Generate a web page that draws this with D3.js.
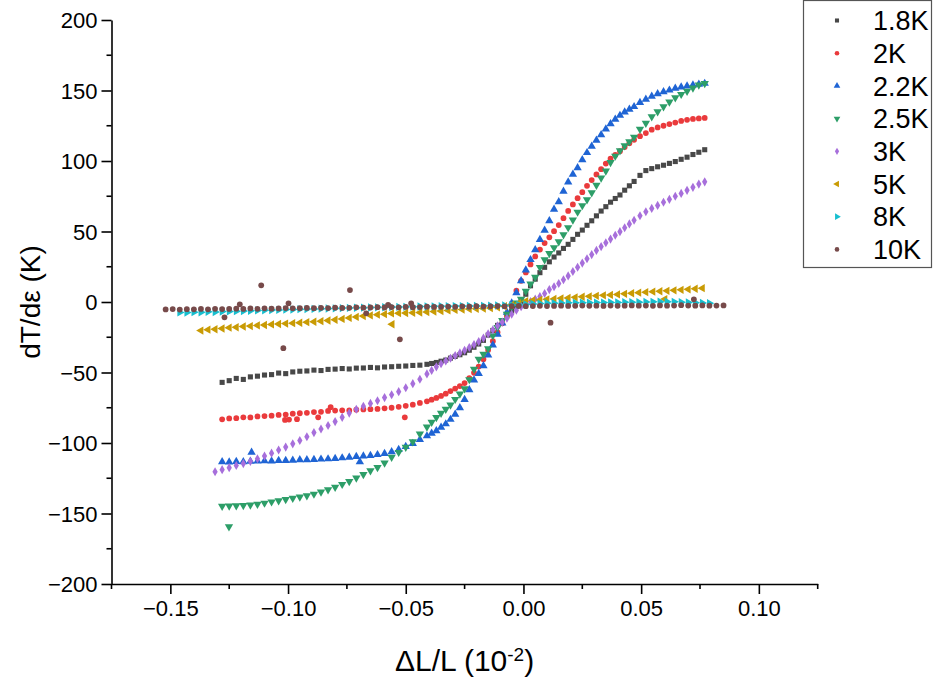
<!DOCTYPE html>
<html>
<head>
<meta charset="utf-8">
<script src="https://cdn.jsdelivr.net/npm/d3@7"></script>
<style>
  body { margin: 0; background: #fff; }
  svg { display: block; }
  text { font-family: Arial, "Liberation Sans", sans-serif; fill: #000; }
</style>
</head>
<body>
<svg id="chart" width="933" height="679"></svg>
<script>
// Strain grid shared by the low-temperature runs (1.8 K – 3 K)
const strainMain = [
  -0.131,-0.128,-0.125,-0.122,-0.119,-0.116,-0.113,-0.110,-0.107,-0.104,
  -0.101,-0.098,-0.095,-0.092,-0.089,-0.086,-0.083,-0.080,-0.077,-0.074,
  -0.071,-0.068,-0.065,-0.062,-0.059,-0.056,-0.053,-0.050,-0.047,-0.044,
  -0.041,-0.039,-0.037,-0.035,-0.033,-0.031,-0.029,-0.027,-0.025,-0.023,
  -0.021,-0.019,-0.017,-0.015,-0.013,-0.011,-0.009,-0.007,-0.005,-0.003,
  -0.001,0.001,0.003,0.005,0.007,0.009,0.011,0.013,0.015,0.017,
  0.019,0.021,0.023,0.025,0.027,0.029,0.031,0.033,0.035,0.037,
  0.039,0.041,0.043,0.045,0.047,0.0495,0.052,0.0545,0.057,0.0595,
  0.062,0.0645,0.067,0.0695,0.072,0.0745,0.077
];

// Strain grid for the higher-temperature runs (5 K – 10 K)
const strainFlat = [
  -0.152,-0.149,-0.146,-0.143,-0.140,-0.137,-0.134,-0.131,-0.128,-0.125,
  -0.122,-0.119,-0.116,-0.113,-0.110,-0.107,-0.104,-0.101,-0.098,-0.095,
  -0.092,-0.089,-0.086,-0.083,-0.080,-0.077,-0.074,-0.071,-0.068,-0.065,
  -0.062,-0.059,-0.056,-0.053,-0.050,-0.047,-0.044,-0.041,-0.038,-0.035,
  -0.032,-0.029,-0.026,-0.023,-0.020,-0.017,-0.014,-0.011,-0.008,-0.005,
  -0.002,0.001,0.004,0.007,0.010,0.013,0.016,0.019,0.022,0.025,
  0.028,0.031,0.034,0.037,0.040,0.043,0.046,0.049,0.052,0.055,
  0.058,0.061,0.064,0.067,0.070,0.073,0.076,0.079,0.082,0.085
];

// dT/dε (K) for each temperature; null where a run has no reading
const dTde_1p8K = [
  null,-57.0,-55.8,-54.2,-54.9,-53.1,-52.6,-51.8,-51.5,-50.4,
  -50.8,-49.6,-49.1,-48.9,-48.3,-48.6,-47.8,-47.6,-47.2,-47.5,
  -46.9,-46.8,-46.4,-46.7,-46.1,-45.9,-45.6,-45.4,-45.0,-44.8,
  -44.2,-43.6,-42.9,-42.0,-41.2,-39.8,-38.6,-37.4,-36.0,-34.2,
  -32.1,-29.8,-27.2,-23.5,-20.2,-16.6,-13.2,-9.8,-6.4,-3.0,
  0.5,5.5,11.5,16.2,20.8,24.6,28.5,31.9,34.8,38.0,
  40.9,44.4,48.0,51.0,54.4,57.6,61.1,64.5,67.6,70.8,
  73.4,75.9,79.3,82.4,85.5,89.8,93.2,94.6,95.9,97.0,
  98.3,99.6,101.2,102.7,104.6,106.2,108.0
];
const dTde_2K = [
  null,-83.2,-82.6,-82.4,-81.8,-81.9,-81.2,-80.9,-80.6,-80.1,
  -79.8,-79.2,-78.9,-78.6,-78.1,-77.9,-77.3,-77.0,-76.8,-76.9,
  -76.4,-76.2,-76.0,-75.8,-75.4,-75.0,-74.3,-73.6,-72.8,-71.6,
  -70.4,-69.3,-68.0,-66.6,-65.0,-63.2,-61.4,-59.6,-57.5,-54.0,
  -50.2,-45.8,-40.6,-34.0,-27.8,-21.5,-15.1,-9.4,-2.2,8.0,
  15.0,21.0,26.6,32.3,37.2,41.8,45.9,50.2,54.6,59.4,
  64.6,69.2,73.6,77.9,82.4,86.5,90.5,94.2,98.2,101.6,
  104.3,107.0,109.9,112.6,115.0,117.6,119.8,122.2,123.8,125.0,
  126.2,127.3,128.4,129.2,129.8,130.2,130.5
];
const dTde_2p2K = [
  null,-113.4,-113.6,-113.2,-113.3,-113.0,-112.9,-112.7,-112.8,-112.5,
  -112.4,-112.3,-112.0,-111.9,-111.8,-111.5,-111.3,-111.0,-110.6,-110.2,
  -109.7,-109.3,-108.9,-108.3,-107.5,-106.3,-104.6,-102.6,-100.4,-97.6,
  -95.0,-93.2,-91.3,-88.9,-86.5,-83.3,-79.6,-75.0,-69.2,-62.3,
  -55.3,-50.8,-45.3,-37.6,-30.6,-23.0,-15.0,-7.3,-0.8,6.5,
  15.0,22.6,30.0,37.0,44.2,50.8,57.5,65.8,71.1,78.5,
  85.0,90.6,95.2,100.8,105.9,110.4,114.6,118.6,122.6,126.3,
  129.5,132.3,134.7,136.6,138.5,141.4,143.8,145.9,147.6,149.0,
  150.2,151.5,152.5,153.2,153.8,154.4,155.0
];
const dTde_2p5K = [
  null,-144.8,-144.6,-144.5,-144.2,-143.9,-143.4,-142.6,-141.7,-140.9,
  -140.0,-139.2,-138.3,-137.3,-136.2,-134.7,-133.1,-131.4,-129.3,-127.2,
  -124.8,-122.3,-119.7,-117.3,-114.2,-110.0,-106.6,-103.0,-99.0,-93.6,
  -88.6,-85.2,-81.8,-78.8,-76.0,-73.0,-69.0,-65.2,-61.5,-55.0,
  -47.6,-40.5,-37.0,-33.0,-23.8,-18.0,-13.0,-8.6,-3.5,-0.6,
  2.0,7.7,12.8,17.6,24.6,30.0,34.4,38.6,42.8,47.7,
  52.8,58.2,63.8,68.4,72.6,77.6,82.8,88.0,93.0,99.0,
  103.5,107.3,110.8,113.7,117.0,122.6,126.8,131.4,135.0,138.6,
  141.9,144.9,147.3,149.5,151.8,154.0,155.0
];
const dTde_3K = [
  -120.4,-118.9,-117.5,-116.0,-114.6,-113.0,-111.2,-109.3,-107.2,-105.0,
  -102.9,-100.6,-98.2,-95.6,-92.6,-90.1,-87.6,-84.8,-81.8,-78.8,
  -76.1,-73.9,-71.9,-70.0,-67.8,-65.8,-63.6,-60.8,-57.9,-54.8,
  -51.0,-48.5,-46.0,-43.8,-41.8,-39.9,-38.0,-36.1,-34.3,-32.3,
  -30.2,-28.1,-25.6,-22.6,-19.8,-16.9,-14.3,-11.5,-8.7,-5.8,
  -3.4,-1.2,0.4,2.0,3.9,6.0,8.8,10.8,13.1,15.8,
  18.5,21.6,24.6,27.6,30.7,33.6,36.6,39.3,42.0,44.6,
  47.3,49.9,52.7,55.4,58.0,61.2,64.0,66.4,68.5,70.7,
  72.8,75.0,77.0,79.2,81.3,83.6,85.2
];
const dTde_5K = [
  null,null,null,null,null,-20.3,-19.6,-19.3,-18.8,-18.2,
  -17.9,-17.4,-17.1,-16.6,-16.3,-15.9,-15.6,-15.3,-15.0,-14.7,
  -14.3,-14.0,-13.6,-13.1,-12.6,-12.0,-11.3,-10.6,-10.0,-9.5,
  -9.0,-8.6,-8.1,-7.9,-7.8,-7.7,-7.5,-7.1,-6.8,-6.4,
  -6.0,-5.6,-5.3,-5.0,-4.8,-4.6,-4.3,-3.8,-3.0,-2.0,
  -0.8,0.6,1.2,1.5,1.9,2.2,2.6,2.9,3.3,3.7,
  4.0,4.4,4.7,5.0,5.4,5.8,6.2,6.6,7.0,7.3,
  7.6,7.9,8.3,8.6,9.0,9.4,9.8,null,null,null
];
const dTde_8K = [
  null,null,-7.4,-7.5,-7.2,-7.3,-7.0,-7.1,-6.8,-6.7,
  -6.5,-6.4,-6.2,-6.0,-5.9,-5.7,-5.6,-5.4,-5.3,-5.1,
  -5.0,-4.9,-4.7,-4.6,-4.5,-4.3,-4.2,-4.1,-4.0,-3.9,
  -3.8,-3.7,-3.6,-3.5,-3.4,-3.3,-3.2,-3.2,-3.1,-3.0,
  -3.0,-2.9,-2.9,-2.8,-2.8,-2.7,-2.6,-2.5,-2.4,-2.2,
  -2.0,-1.7,-1.4,-1.1,-0.9,-0.8,-0.7,-0.6,-0.6,-0.5,
  -0.5,-0.4,-0.4,-0.3,-0.3,-0.2,-0.2,-0.1,0.0,0.1,
  0.2,0.2,0.1,-0.1,-0.3,-0.5,-0.7,-0.9,null,null
];
const dTde_10K = [
  -5.3,-5.0,-5.4,-5.1,-5.2,-4.9,-5.2,-4.8,-5.0,-4.9,
  -4.7,-4.9,-4.6,-4.8,-4.5,-4.7,-4.6,-4.3,-4.5,-4.4,
  -4.2,-4.4,-4.1,-4.3,-4.0,-4.2,-4.1,-3.8,-4.0,-3.9,
  -3.7,-3.9,-3.6,-3.8,-3.5,-3.7,-3.6,-3.3,-3.5,-3.4,
  -3.2,-3.4,-3.1,-3.3,-3.0,-3.2,-3.1,-2.9,-3.1,-3.0,
  -2.8,-3.0,-2.9,-2.7,-2.9,-2.8,-2.6,-2.8,-2.7,-2.5,
  -2.7,-2.6,-2.8,-2.5,-2.7,-2.6,-2.4,-2.6,-2.5,-2.7,
  -2.4,-2.6,-2.5,-2.3,-2.5,-2.6,-2.4,-2.6,-2.5,-2.4
];

// Isolated readings that fall off the main trend, as [strain, dT/dε]
const stray_2K = [[-0.1013,-83.6],[-0.0996,-83.4],[-0.0962,-83.1],[-0.0872,-81.8],[-0.0819,-74.6],[-0.0504,-81.8]];
const stray_2p2K = [[-0.1155,-106.6],[-0.0695,-113.3]];
const stray_2p5K = [[-0.1251,-159.4]];
const stray_5K = [[-0.0558,-15.8],[0.0601,2.1]];
const stray_10K = [
  [-0.1270,-10.9],[-0.1205,-1.6],[-0.1114,11.8],[-0.1020,-32.8],[-0.0998,-0.9],
  [-0.0737,8.5],[-0.0668,-8.0],[-0.0575,-2.1],[-0.0525,-26.5],[-0.0477,-0.9],
  [0.0115,-14.7],[0.0724,1.9]
];

const temperatureLabels = ["1.8K","2K","2.2K","2.5K","3K","5K","8K","10K"];
const xTicks = [-0.15,-0.10,-0.05,0.00,0.05,0.10];
const yTicks = [-200,-150,-100,-50,0,50,100,150,200];

const series = [
  { label: temperatureLabels[0], x: strainMain, y: dTde_1p8K, extra: [],          color: "#484848", shape: "square" },
  { label: temperatureLabels[1], x: strainMain, y: dTde_2K,   extra: stray_2K,    color: "#ea3a3c", shape: "circle" },
  { label: temperatureLabels[2], x: strainMain, y: dTde_2p2K, extra: stray_2p2K,  color: "#1f64d4", shape: "up" },
  { label: temperatureLabels[3], x: strainMain, y: dTde_2p5K, extra: stray_2p5K,  color: "#2d9e68", shape: "down" },
  { label: temperatureLabels[4], x: strainMain, y: dTde_3K,   extra: [],          color: "#a76fdb", shape: "diamond" },
  { label: temperatureLabels[5], x: strainFlat, y: dTde_5K,   extra: stray_5K,    color: "#c99b04", shape: "left" },
  { label: temperatureLabels[6], x: strainFlat, y: dTde_8K,   extra: [],          color: "#17bfcf", shape: "right" },
  { label: temperatureLabels[7], x: strainFlat, y: dTde_10K,  extra: stray_10K,   color: "#774a4a", shape: "circle" }
];

const svg = d3.select("#chart");
const plot = { left: 111.5, right: 817.7, top: 20, bottom: 584 };

const x = d3.scaleLinear().domain([-0.175, 0.125]).range([plot.left, plot.right]);
const y = d3.scaleLinear().domain([-200, 200]).range([plot.bottom, plot.top]);

// marker geometry per shape
const shapeDef = {
  square:  { type: d3.symbolSquare,   size: 26, rot: 0 },
  circle:  { type: d3.symbolCircle,   size: 26, rot: 0 },
  up:      { type: d3.symbolTriangle, size: 30, rot: 0 },
  down:    { type: d3.symbolTriangle, size: 30, rot: 180 },
  diamond: { type: d3.symbolDiamond,  size: 24, rot: 0 },
  left:    { type: d3.symbolTriangle, size: 30, rot: -90 },
  right:   { type: d3.symbolTriangle, size: 30, rot: 90 }
};
const symbolPath = s => d3.symbol().type(shapeDef[s].type).size(shapeDef[s].size)();

// data markers, later series drawn on top
const marks = svg.append("g").attr("class", "marks");
series.forEach(s => {
  const pts = s.x.map((v, i) => [v, s.y[i]]).filter(p => p[1] !== null).concat(s.extra);
  const def = shapeDef[s.shape];
  marks.append("g")
    .selectAll("path")
    .data(pts)
    .join("path")
    .attr("d", symbolPath(s.shape))
    .attr("transform", p => `translate(${x(p[0])},${y(p[1])}) rotate(${def.rot})`)
    .attr("fill", s.color);
});

// axes
const axisStroke = 1.6;
const xAxis = d3.axisBottom(x).tickValues(xTicks).tickFormat(d3.format(".2f")).tickSize(10).tickSizeOuter(0);
const yAxis = d3.axisLeft(y).tickValues(yTicks).tickFormat(d3.format("d")).tickSize(10).tickSizeOuter(0);

const gx = svg.append("g").attr("transform", `translate(0,${plot.bottom})`).call(xAxis);
const gy = svg.append("g").attr("transform", `translate(${plot.left},0)`).call(yAxis);

// minor ticks
const xMinor = [-0.175,-0.125,-0.075,-0.025,0.025,0.075,0.125];
const yMinor = [-175,-125,-75,-25,25,75,125,175];
gx.selectAll(".minor").data(xMinor).join("line").attr("class", "minor")
  .attr("x1", d => x(d)).attr("x2", d => x(d)).attr("y1", 0).attr("y2", 5)
  .attr("stroke", "#000").attr("stroke-width", axisStroke);
gy.selectAll(".minor").data(yMinor).join("line").attr("class", "minor")
  .attr("y1", d => y(d)).attr("y2", d => y(d)).attr("x1", 0).attr("x2", -5)
  .attr("stroke", "#000").attr("stroke-width", axisStroke);

[gx, gy].forEach(g => {
  g.select(".domain").attr("stroke", "#000").attr("stroke-width", axisStroke);
  g.selectAll(".tick line").attr("stroke", "#000").attr("stroke-width", axisStroke);
  g.selectAll(".tick text").attr("font-size", 22).attr("font-family", "Arial, 'Liberation Sans', sans-serif").attr("fill", "#000");
});
gx.selectAll(".tick text").attr("dy", "0.85em").attr("y", 13);
gy.selectAll(".tick text").attr("x", -14).attr("dy", "0.35em");

// axis titles
svg.append("text")
  .attr("x", (plot.left + plot.right) / 2).attr("y", 671)
  .attr("text-anchor", "middle").attr("font-size", 30)
  .text("ΔL/L (10")
  .append("tspan").attr("baseline-shift", "super").attr("font-size", 19).text("-2")
  .select(function () { return this.parentNode; })
  .append("tspan").text(")");

svg.append("text")
  .attr("transform", `translate(40,${(plot.top + plot.bottom) / 2}) rotate(-90)`)
  .attr("text-anchor", "middle").attr("font-size", 28)
  .text("dT/dε (K)");

// legend
const legend = svg.append("g");
legend.append("rect")
  .attr("x", 803.5).attr("y", 0.5).attr("width", 128).attr("height", 267)
  .attr("fill", "#fff").attr("stroke", "#555").attr("stroke-width", 1.2);
series.forEach((s, i) => {
  const cy = 20.5 + i * 32.7;
  legend.append("path")
    .attr("d", symbolPath(s.shape))
    .attr("transform", `translate(837,${cy}) rotate(${shapeDef[s.shape].rot}) scale(0.8)`)
    .attr("fill", s.color);
  legend.append("text")
    .attr("x", 873).attr("y", cy).attr("dy", "0.36em")
    .attr("font-size", 27).text(s.label);
});
</script>
</body>
</html>
